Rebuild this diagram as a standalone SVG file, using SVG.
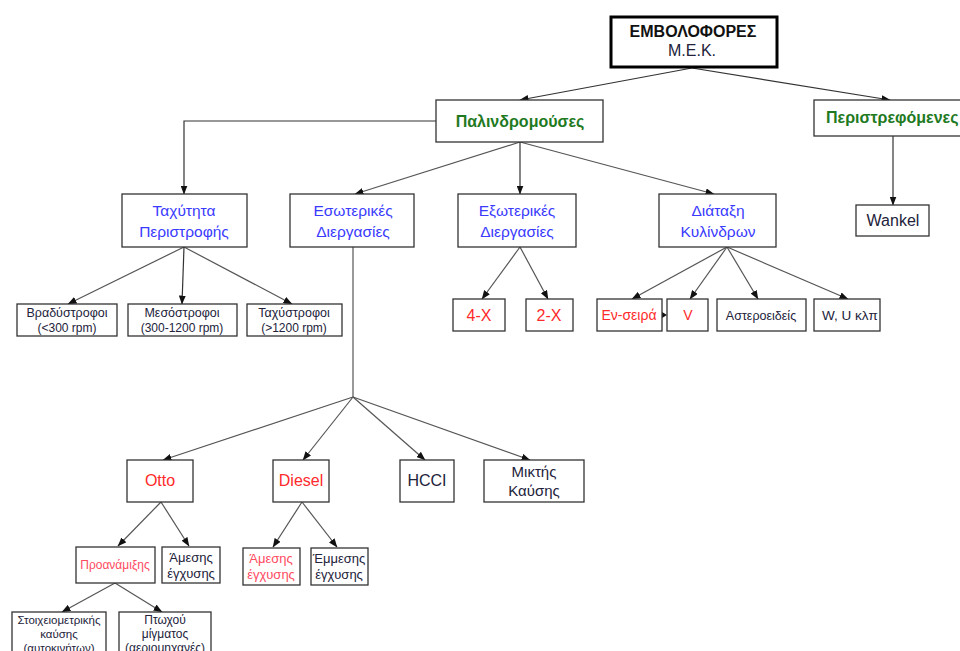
<svg xmlns="http://www.w3.org/2000/svg" width="960" height="651" viewBox="0 0 960 651">
<defs>
<marker id="ah" markerWidth="9" markerHeight="7" refX="8.5" refY="3.5" orient="auto" markerUnits="userSpaceOnUse">
<path d="M0,0 L9,3.5 L0,7 z" fill="#111"/>
</marker>
</defs>
<style>
text{font-family:"Liberation Sans",Arial,sans-serif;text-anchor:middle}
.box{fill:#fff;stroke:#333;stroke-width:1.3}
.c{fill:none;stroke:#333;stroke-width:1.2}
.g{fill:none;stroke:#555;stroke-width:1.2}
.a{marker-end:url(#ah)}
.dk{fill:#22223a}
.bl{fill:#3a3aff}
.rd{fill:#ff2a2a}
.rl{fill:#ff4a60}
.gr{fill:#1f7a1f;font-weight:bold}
</style>
<rect width="960" height="651" fill="#fff"/>
<g id="connectors">
<line class="c a" x1="692" y1="68" x2="520" y2="100"/>
<line class="c a" x1="692" y1="68" x2="890" y2="100"/>
<polyline class="c a" points="436,121 184,121 184,194"/>
<line class="g a" x1="520" y1="142" x2="355" y2="194"/>
<line class="c a" x1="520" y1="142" x2="520" y2="194"/>
<line class="g a" x1="520" y1="142" x2="714" y2="194"/>
<line class="c a" x1="893" y1="136" x2="893" y2="205"/>
<line class="g a" x1="184" y1="247" x2="68" y2="304"/>
<line class="c a" x1="184" y1="247" x2="182" y2="304"/>
<line class="g a" x1="184" y1="247" x2="292" y2="304"/>
<line class="g a" x1="520" y1="247" x2="482" y2="299"/>
<line class="g a" x1="520" y1="247" x2="548" y2="299"/>
<line class="g a" x1="727" y1="247" x2="632" y2="299"/>
<line class="g a" x1="727" y1="247" x2="690" y2="299"/>
<line class="g a" x1="727" y1="247" x2="758" y2="299"/>
<line class="g a" x1="727" y1="247" x2="848" y2="299"/>
<path d="M662,312 L667,315 L662,318 z" fill="#111"/>
<line class="g" x1="353" y1="247" x2="353" y2="397"/>
<line class="g a" x1="353" y1="397" x2="163" y2="460"/>
<line class="g a" x1="353" y1="397" x2="303" y2="460"/>
<line class="g a" x1="353" y1="397" x2="425" y2="460"/>
<line class="g a" x1="353" y1="397" x2="530" y2="460"/>
<line class="g a" x1="161" y1="502" x2="118" y2="546"/>
<line class="g a" x1="161" y1="502" x2="189" y2="546"/>
<line class="g a" x1="302" y1="502" x2="273" y2="547"/>
<line class="g a" x1="302" y1="502" x2="337" y2="547"/>
<line class="g a" x1="115" y1="583" x2="62" y2="612"/>
<line class="g a" x1="115" y1="583" x2="162" y2="612"/>
</g>
<g id="n-emvol">
<rect x="611" y="17" width="166" height="50" fill="#fff" stroke="#000" stroke-width="3"/>
<text x="693" y="37" style="font-size:16px;font-weight:bold;fill:#111">ΕΜΒΟΛΟΦΟΡΕΣ</text>
<text x="692" y="56" style="font-size:16px" class="dk">Μ.Ε.Κ.</text>
</g>
<g id="n-palin">
<rect class="box" x="436" y="100" width="167" height="42"/>
<text x="520" y="127" style="font-size:16px" class="gr">Παλινδρομούσες</text>
</g>
<g id="n-peri">
<rect class="box" x="814" y="100" width="150" height="36"/>
<text x="826" y="123" style="font-size:16px;text-anchor:start" class="gr">Περιστρεφόμενες</text>
</g>
<g id="n-wankel">
<rect class="box" x="856" y="205" width="73" height="31"/>
<text x="893" y="226" style="font-size:16px" class="dk">Wankel</text>
</g>
<g id="n-taxytita">
<rect class="box" x="122" y="194" width="125" height="53"/>
<text x="184" y="216" style="font-size:15.5px" class="bl">Ταχύτητα</text>
<text x="184" y="237" style="font-size:15.5px" class="bl">Περιστροφής</text>
</g>
<g id="n-esot">
<rect class="box" x="290" y="194" width="124" height="53"/>
<text x="353" y="216" style="font-size:15.5px" class="bl">Εσωτερικές</text>
<text x="353" y="237" style="font-size:15.5px" class="bl">Διεργασίες</text>
</g>
<g id="n-exot">
<rect class="box" x="458" y="194" width="118" height="53"/>
<text x="517" y="216" style="font-size:15.5px" class="bl">Εξωτερικές</text>
<text x="517" y="237" style="font-size:15.5px" class="bl">Διεργασίες</text>
</g>
<g id="n-diataxi">
<rect class="box" x="659" y="194" width="117" height="53"/>
<text x="718" y="216" style="font-size:15.5px" class="bl">Διάταξη</text>
<text x="718" y="237" style="font-size:15.5px" class="bl">Κυλίνδρων</text>
</g>
<g id="n-vrad">
<rect class="box" x="17" y="304" width="100" height="32"/>
<text x="67" y="317" style="font-size:12.5px" class="dk">Βραδύστροφοι</text>
<text x="67" y="332" style="font-size:12px" class="dk">(&lt;300 rpm)</text>
</g>
<g id="n-meso">
<rect class="box" x="128" y="304" width="109" height="32"/>
<text x="182" y="317" style="font-size:12.5px" class="dk">Μεσόστροφοι</text>
<text x="182" y="332" style="font-size:12px" class="dk">(300-1200 rpm)</text>
</g>
<g id="n-taxys">
<rect class="box" x="247" y="304" width="95" height="32"/>
<text x="294" y="317" style="font-size:12.5px" class="dk">Ταχύστροφοι</text>
<text x="294" y="332" style="font-size:12px" class="dk">(&gt;1200 rpm)</text>
</g>
<g id="n-4x">
<rect class="box" x="453" y="299" width="52" height="32"/>
<text x="479" y="321" style="font-size:16px" class="rd">4-X</text>
</g>
<g id="n-2x">
<rect class="box" x="526" y="299" width="47" height="32"/>
<text x="549" y="321" style="font-size:16px" class="rd">2-X</text>
</g>
<g id="n-enseira">
<rect class="box" x="597" y="299" width="65" height="32"/>
<text x="629" y="320" style="font-size:14px" class="rd">Εν-σειρά</text>
</g>
<g id="n-v">
<rect class="box" x="667" y="299" width="41" height="32"/>
<text x="688" y="320" style="font-size:14px" class="rd">V</text>
</g>
<g id="n-aster">
<rect class="box" x="717" y="299" width="89" height="32"/>
<text x="761" y="320" style="font-size:12.5px" class="dk">Αστεροειδείς</text>
</g>
<g id="n-wu">
<rect class="box" x="814" y="299" width="66" height="32"/>
<text x="850" y="320" style="font-size:13.5px" class="dk">W, U κλπ</text>
</g>
<g id="n-otto">
<rect class="box" x="127" y="460" width="66" height="42"/>
<text x="160" y="486" style="font-size:16px" class="rd">Otto</text>
</g>
<g id="n-diesel">
<rect class="box" x="273" y="460" width="56" height="42"/>
<text x="301" y="486" style="font-size:16px" class="rd">Diesel</text>
</g>
<g id="n-hcci">
<rect class="box" x="400" y="460" width="54" height="42"/>
<text x="427" y="486" style="font-size:16px" class="dk">HCCI</text>
</g>
<g id="n-miktis">
<rect class="box" x="484" y="460" width="100" height="42"/>
<text x="534" y="477" style="font-size:15px" class="dk">Μικτής</text>
<text x="534" y="496" style="font-size:15px" class="dk">Καύσης</text>
</g>
<g id="n-proan">
<rect class="box" x="76" y="547" width="79" height="36"/>
<text x="115" y="569" style="font-size:12px" class="rl">Προανάμιξης</text>
</g>
<g id="n-ames1">
<rect class="box" x="162" y="547" width="58" height="36"/>
<text x="191" y="562" style="font-size:13px" class="dk">Άμεσης</text>
<text x="191" y="578" style="font-size:13px" class="dk">έγχυσης</text>
</g>
<g id="n-ames2">
<rect class="box" x="243" y="548" width="57" height="37"/>
<text x="271" y="563" style="font-size:13px" class="rl">Άμεσης</text>
<text x="271" y="579" style="font-size:13px" class="rl">έγχυσης</text>
</g>
<g id="n-emmes">
<rect class="box" x="311" y="548" width="57" height="37"/>
<text x="339" y="563" style="font-size:13px" class="dk">Έμμεσης</text>
<text x="339" y="579" style="font-size:13px" class="dk">έγχυσης</text>
</g>
<g id="n-stoix">
<rect class="box" x="12" y="612" width="94" height="50"/>
<text x="59" y="624" style="font-size:11.5px" class="dk">Στοιχειομετρικής</text>
<text x="59" y="638" style="font-size:11.5px" class="dk">καύσης</text>
<text x="59" y="652" style="font-size:11.5px" class="dk">(αυτοκινήτων)</text>
</g>
<g id="n-ptox">
<rect class="box" x="119" y="612" width="92" height="50"/>
<text x="165" y="624" style="font-size:12px" class="dk">Πτωχού</text>
<text x="165" y="638" style="font-size:12px" class="dk">μίγματος</text>
<text x="165" y="652" style="font-size:12px" class="dk">(αεριομηχανές)</text>
</g>
</svg>
